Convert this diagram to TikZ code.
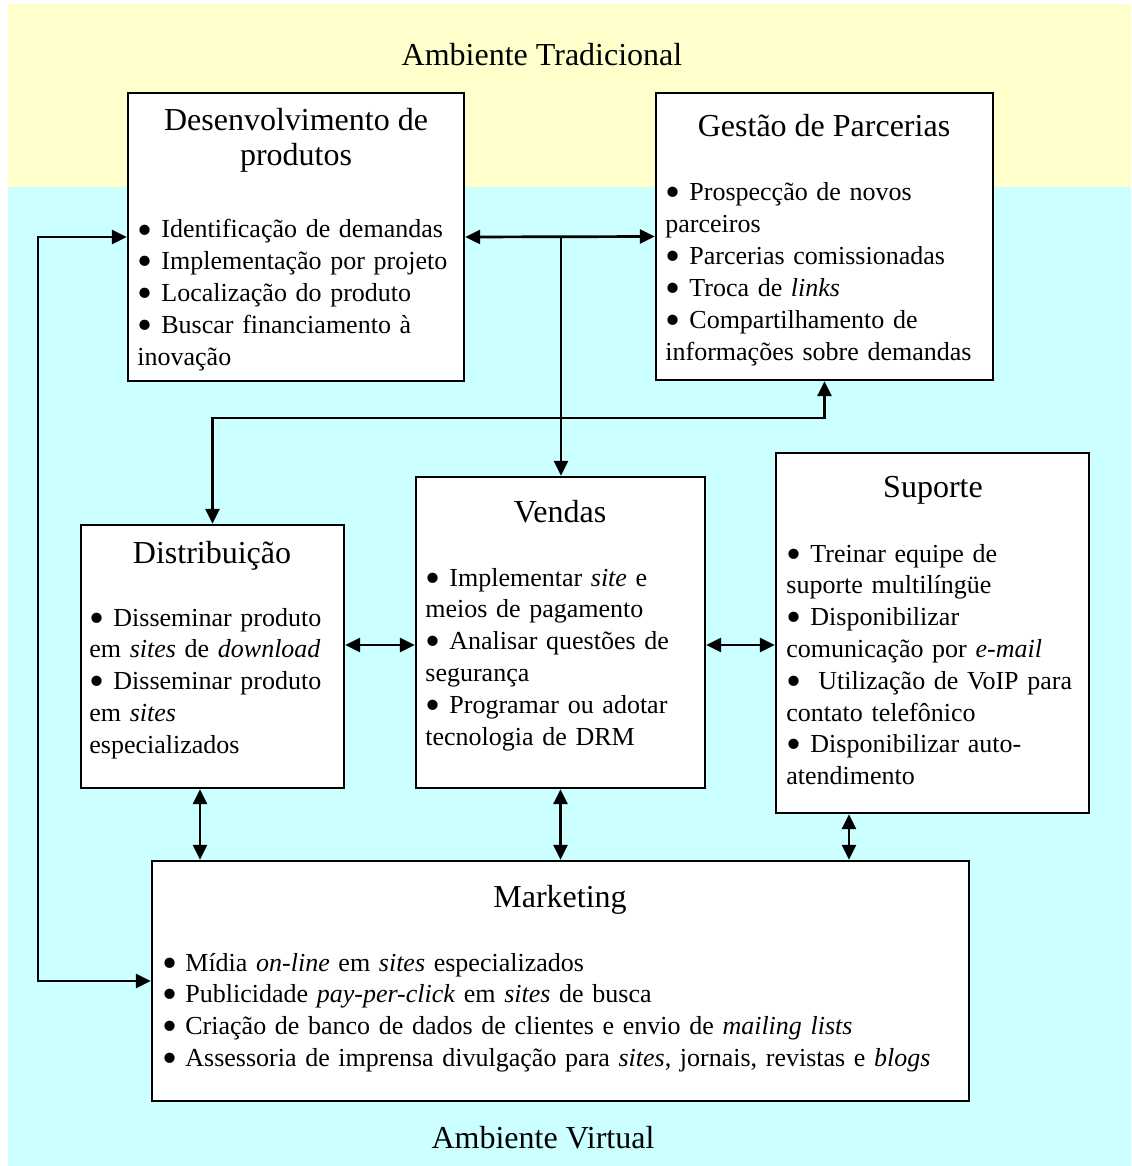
\documentclass[tikz,border=0pt]{standalone}
\usepackage{fontspec}
\setmainfont{Liberation Serif}
\usetikzlibrary{arrows.meta,fit}

\definecolor{tradbg}{HTML}{FFFFCC}
\definecolor{virtbg}{HTML}{CCFFFF}

% large bullet followed by a fixed gap, as in the lists of every box
\newcommand{\bigdot}{\smash{\raisebox{-3pt}{\scalebox{1.65}{\textbullet}}}}
\newcommand{\itembul}[1][12pt]{\makebox[#1][l]{\bigdot}}

\tikzset{
  box/.style={draw=black, fill=white, line width=1.2pt, inner sep=0pt},
  boxtitle/.style={anchor=base, inner sep=0pt, font=\fontsize{16pt}{17.5pt}\selectfont},
  boxbody/.style={anchor=base west, inner sep=0pt, text width=300pt, align=left,
    font=\fontsize{13pt}{15.9pt}\selectfont},
  envlabel/.style={anchor=base, inner sep=0pt, font=\fontsize{16pt}{18pt}\selectfont},
  link/.style={line width=1.35pt, {Triangle[length=7.5pt,width=7pt]}-{Triangle[length=7.5pt,width=7pt]}},
  oneway/.style={line width=1.35pt, -{Triangle[length=7.5pt,width=7pt]}}
}

\begin{document}
\begin{tikzpicture}[x=0.5pt, y=-0.5pt]
  \useasboundingbox (0,0) rectangle (1131,1166);

  % the two environments
  \fill[tradbg] (8,4) rectangle (1131,187);
  \fill[virtbg] (8,187) rectangle (1131,1166);
  \node[envlabel] (trad) at (542,66) {Ambiente Tradicional};
  \node[envlabel] (virt) at (543,1148) {Ambiente Virtual};

  % boxes
  \node[box, fit={(128,93) (464,381)}] (dev) {};
  \node[box, fit={(656,93) (993,380)}] (gest) {};
  \node[box, fit={(81,525) (344,788)}] (dist) {};
  \node[box, fit={(416,477) (705,788)}] (vend) {};
  \node[box, fit={(776,453) (1089,813)}] (sup) {};
  \node[box, fit={(152,861) (969,1101)}] (mkt) {};

  % Desenvolvimento de produtos
  \node[boxtitle] (devt1) at (296,131) {Desenvolvimento de};
  \node[boxtitle] (devt2) at (296,166) {produtos};
  \node[boxbody] (devb) at (137,238) {%
    \itembul Identificação de demandas\\
    \itembul Implementação por projeto\\
    \itembul Localização do produto\\
    \itembul Buscar financiamento à\\
    inovação};

  % Gestão de Parcerias
  \node[boxtitle] (gestt) at (824,137) {Gestão de Parcerias};
  \node[boxbody] (gestb) at (665,201) {%
    \itembul Prospecção de novos\\
    parceiros\\
    \itembul Parcerias comissionadas\\
    \itembul Troca de \textit{links}\\
    \itembul Compartilhamento de\\
    informações sobre demandas};

  % Distribuição
  \node[boxtitle] (distt) at (212,563) {Distribuição};
  \node[boxbody] (distb) at (89,626) {%
    \itembul Disseminar produto\\
    em \textit{sites} de \textit{download}\\
    \itembul Disseminar produto\\
    em \textit{sites}\\
    especializados};

  % Vendas
  \node[boxtitle] (vendt) at (560,522) {Vendas};
  \node[boxbody] (vendb) at (425,586) {%
    \itembul Implementar \textit{site} e\\
    meios de pagamento\\
    \itembul Analisar questões de\\
    segurança\\
    \itembul Programar ou adotar\\
    tecnologia de DRM};

  % Suporte
  \node[boxtitle] (supt) at (933,497) {Suporte};
  \node[boxbody] (supb) at (786,562) {%
    \itembul Treinar equipe de\\
    suporte multilíngüe\\
    \itembul Disponibilizar\\
    comunicação por \textit{e-mail}\\
    \itembul[16pt]Utilização de VoIP para\\
    contato telefônico\\
    \itembul Disponibilizar auto-\\
    atendimento};

  % Marketing
  \node[boxtitle] (mktt) at (560,907) {Marketing};
  \node[boxbody, text width=420pt] (mktb) at (162,971) {%
    \itembul[11.5pt]Mídia \textit{on-line} em \textit{sites} especializados\\
    \itembul[11.5pt]Publicidade \textit{pay-per-click} em \textit{sites} de busca\\
    \itembul[11.5pt]Criação de banco de dados de clientes e envio de \textit{mailing lists}\\
    \itembul[11.5pt]Assessoria de imprensa divulgação para \textit{sites}, jornais, revistas e \textit{blogs}};

  % routing points of the connectors
  \coordinate (split) at (561,237);
  \coordinate (bus) at (0,418);
  \coordinate (loop) at (38,0);
  \coordinate (midrow) at (0,645);
  \coordinate (distdrop) at (200,0);
  \coordinate (supdrop) at (849,0);

  % connectors
  \draw[link] (dev.east) -- (gest.west);
  \draw[oneway] (split) -- (split |- vend.north);
  \draw[link] (dist.north) -- (dist.north |- bus) -- (gest.south |- bus) -- (gest.south);
  \draw[link] (dev.west) -- (dev.west -| loop) -- (mkt.west -| loop) -- (mkt.west);
  \draw[link] (dist.east |- midrow) -- (vend.west |- midrow);
  \draw[link] (vend.east |- midrow) -- (sup.west |- midrow);
  \draw[link] (dist.south -| distdrop) -- (mkt.north -| distdrop);
  \draw[link] (vend.south) -- (vend.south |- mkt.north);
  \draw[link] (sup.south -| supdrop) -- (mkt.north -| supdrop);
\end{tikzpicture}
\end{document}
